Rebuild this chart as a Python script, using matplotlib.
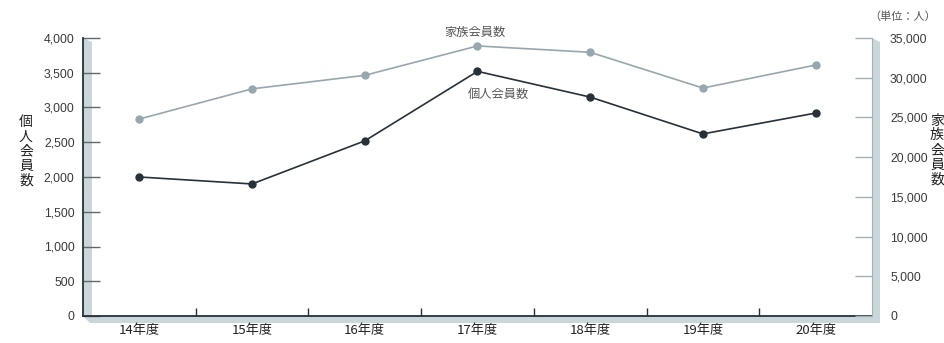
import matplotlib
matplotlib.use("Agg")
import matplotlib.pyplot as plt
from matplotlib.patches import Polygon
from matplotlib import font_manager

# 会員数の推移
years = ["14年度", "15年度", "16年度", "17年度", "18年度", "19年度", "20年度"]
kojin = [2000, 1900, 2520, 3520, 3150, 2620, 2920]          # 個人会員数（左軸）
kazoku = [24800, 28600, 30300, 34000, 33200, 28700, 31600]  # 家族会員数（右軸）

left_ticks = [0, 500, 1000, 1500, 2000, 2500, 3000, 3500, 4000]
right_ticks = [0, 5000, 10000, 15000, 20000, 25000, 30000, 35000]

dark = "#26313a"
light = "#97a7af"
shade = "#c9d6da"
textc = "#3a3a3a"

names = {f.name for f in font_manager.fontManager.ttflist}
num_font = "Liberation Sans Narrow" if "Liberation Sans Narrow" in names else "Liberation Sans"
plt.rcParams["font.family"] = [num_font, "Noto Sans CJK JP", "DejaVu Sans"]

W, H = 945, 343
fig = plt.figure(figsize=(W / 100, H / 100), dpi=100)

def px(x, y):
    # ピクセル座標（左上原点）→ figure座標
    return (x / W, 1 - y / H)

L, R, T, B = 83, 872, 38, 316
ax = fig.add_axes([L / W, 1 - B / H, (R - L) / W, (B - T) / H])
ax.patch.set_visible(False)

# 立体風の影
for pts in [
    [(L, T), (L + 9, T + 4), (L + 9, B), (L, B)],
    [(L, B), (R + 8, B), (R + 8, B + 7), (L + 7, B + 7)],
    [(R, T), (R + 8, T + 4), (R + 8, B + 7), (R, B)],
]:
    fig.add_artist(Polygon([px(*p) for p in pts], closed=True,
                           transform=fig.transFigure, facecolor=shade,
                           edgecolor="none", zorder=-1))

x = range(len(years))
ax.plot(x, kojin, color=dark, lw=1.2, marker="o", ms=5, zorder=3)
ax.set_xlim(-0.5, len(years) - 0.5)
ax.set_ylim(0, 4000)
ax.set_yticks(left_ticks)
ax.set_yticklabels([f"{v:,}" for v in left_ticks], fontsize=8.8, color=textc)
ax.tick_params(axis="y", direction="in", length=12, width=1, color="#5e686e", pad=6)
ax.set_xticks(list(x))
ax.set_xticklabels(years, fontsize=9.5, color="#222222", family=["Noto Sans CJK JP"])
ax.set_xticks([i + 0.5 for i in range(len(years) - 1)], minor=True)
ax.tick_params(axis="x", which="major", length=0, pad=6)
ax.tick_params(axis="x", which="minor", direction="in", length=6, width=1, color=dark)

ax2 = ax.twinx()
ax2.patch.set_visible(False)
ax2.plot(x, kazoku, color=light, lw=1.2, marker="o", ms=5, zorder=3)
ax2.set_ylim(0, 35000)
ax2.set_yticks(right_ticks)
ax2.set_yticklabels([f"{v:,}" for v in right_ticks], fontsize=8.8, color=textc)
ax2.tick_params(axis="y", direction="in", length=12, width=1, color="#a3b1b7", pad=13)

for a in (ax, ax2):
    a.spines["top"].set_visible(False)
ax.spines["right"].set_visible(False)
ax.spines["left"].set_color(dark)
ax.spines["bottom"].set_color(dark)
ax.spines["left"].set_linewidth(1.3)
ax.spines["bottom"].set_linewidth(1.3)
ax2.spines["left"].set_visible(False)
ax2.spines["bottom"].set_visible(False)
ax2.spines["right"].set_color("#a3b1b7")

# 系列名
ax2.annotate("家族会員数", (3, kazoku[3]), xytext=(-2, 5), textcoords="offset points",
             ha="center", va="bottom", fontsize=8.8, color="#555555",
             family=["Noto Sans CJK JP"])
ax.annotate("個人会員数", (3, kojin[3]), xytext=(15, -12), textcoords="offset points",
            ha="center", va="top", fontsize=8.8, color="#555555",
            family=["Noto Sans CJK JP"])

# 軸タイトル（縦書き）
fig.text(*px(26, 151), "\n".join("個人会員数"), ha="center", va="center",
         fontsize=10, linespacing=1.05, color="#222222", family=["Noto Sans CJK JP"])
fig.text(*px(937, 150), "\n".join("家族会員数"), ha="center", va="center",
         fontsize=10, linespacing=1.05, color="#222222", family=["Noto Sans CJK JP"])
fig.text(*px(903, 17), "（単位：人）", ha="center", va="center",
         fontsize=8, color="#555555", family=["Noto Sans CJK JP"])

fig.savefig("out.png", dpi=100)
